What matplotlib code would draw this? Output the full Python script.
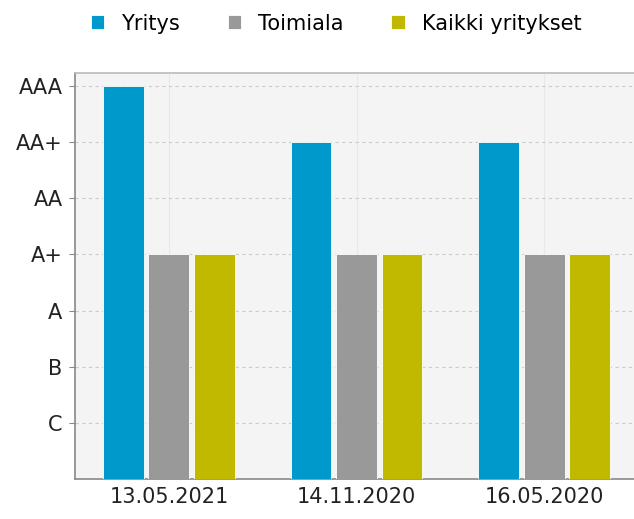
import matplotlib
matplotlib.use("Agg")
import matplotlib.pyplot as plt
import numpy as np

ratings = ["C", "B", "A", "A+", "AA", "AA+", "AAA"]
dates = ["13.05.2021", "14.11.2020", "16.05.2020"]
series_names = ["Yritys", "Toimiala", "Kaikki yritykset"]
yritys = ["AAA", "AA+", "AA+"]
toimiala = ["A+", "A+", "A+"]
kaikki = ["A+", "A+", "A+"]
colors = ["#0099cc", "#999999", "#c0b900"]

plt.rcParams['font.family'] = ['DejaVu Sans']
fig = plt.figure(figsize=(6.34, 5.19), dpi=100)
ax = fig.add_axes([75/634, 1-479/519, 563/634, 406/519])
ax.set_facecolor("#f4f4f4")

x = np.arange(len(dates))
w = 0.218
offs = [-0.2423, 0, 0.2423]
for vals, name, c, o in zip([yritys, toimiala, kaikki], series_names, colors, offs):
    h = [ratings.index(v) + 1 for v in vals]
    ax.bar(x + o, h, width=w, color=c, edgecolor="white", linewidth=0.6, label=name, zorder=3)

ax.set_xlim(-0.5, 2.5)
ax.set_ylim(0, 7.23)
ax.set_yticks(range(1, len(ratings) + 1))
ax.set_yticklabels(ratings)
ax.set_xticks(x)
ax.set_xticklabels(dates)
ax.tick_params(axis='both', labelsize=15, colors="#222222", length=4, width=0.8)
ax.tick_params(axis='x', length=0, pad=6)
ax.tick_params(axis='y', color="#888888", pad=5)
ax.yaxis.grid(True, linestyle=(0, (3, 3)), color="#cccccc", linewidth=0.8, zorder=0)
ax.xaxis.grid(True, linestyle="-", color="#e8e8e8", linewidth=0.8, zorder=0)
for s in ["top", "right"]:
    ax.spines[s].set_color("#bbbbbb")
    ax.spines[s].set_linewidth(1.2)
for s in ["left", "bottom"]:
    ax.spines[s].set_color("#888888")
    ax.spines[s].set_linewidth(1.2)

fig.legend(loc="upper center", bbox_to_anchor=(0.53, 1.0), ncol=3, frameon=False,
           fontsize=15, handlelength=0.65, handleheight=0.65, handletextpad=0.8,
           columnspacing=2.3, borderaxespad=0.25)
fig.savefig("out.png", dpi=100)
